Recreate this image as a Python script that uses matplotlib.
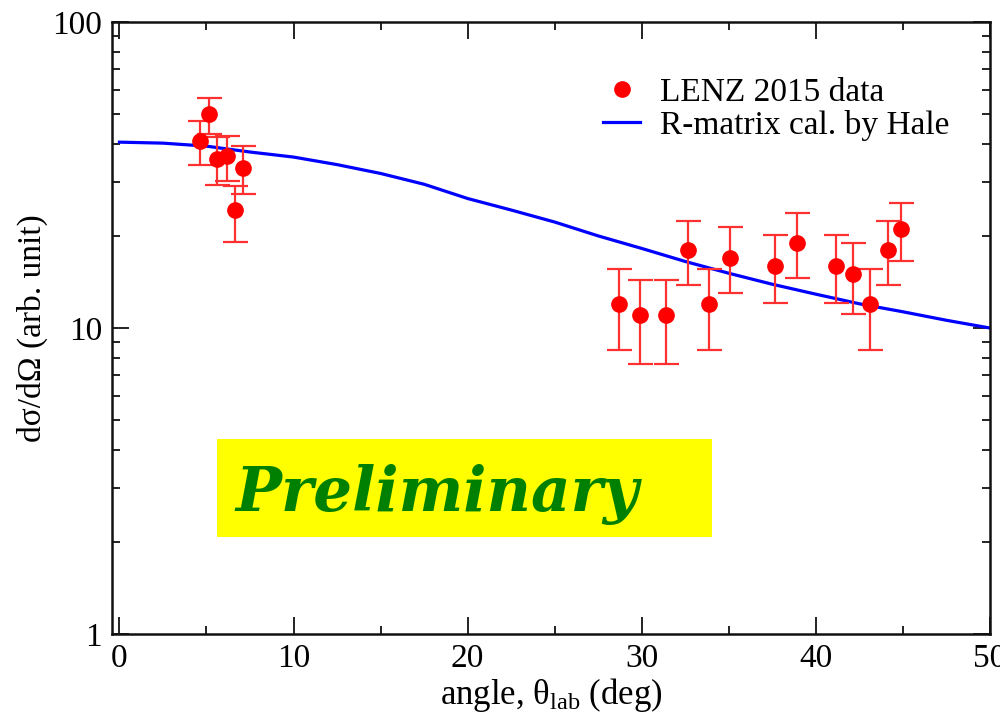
import matplotlib
matplotlib.use("Agg")
import matplotlib.pyplot as plt
from matplotlib.patches import Rectangle
from matplotlib.ticker import MultipleLocator, LogLocator, NullFormatter, FixedLocator, FixedFormatter
import numpy as np

# ---- data ----
angle = [4.65, 5.13, 5.63, 6.19, 6.63, 7.1, 28.69, 29.9, 31.38, 32.63, 33.87,
         35.08, 37.66, 38.9, 41.13, 42.13, 43.13, 44.12, 44.91]
xsec = [41.0, 50.0, 35.7, 36.4, 24.3, 33.3, 12.0, 11.0, 11.0, 18.0, 12.0,
        17.0, 16.0, 19.0, 16.0, 15.0, 12.0, 18.0, 21.0]
xsec_hi = [47.4, 56.6, 42.0, 42.4, 29.2, 39.3, 15.6, 14.3, 14.3, 22.3, 15.6,
           21.4, 20.1, 23.7, 20.1, 19.0, 15.6, 22.3, 25.7]
xsec_lo = [34.1, 43.2, 29.3, 30.3, 19.1, 27.4, 8.5, 7.65, 7.65, 13.85, 8.5,
           13.0, 12.06, 14.6, 12.06, 11.1, 8.5, 13.85, 16.5]

calc_angle = [0, 2.5, 5, 7.5, 10, 12.5, 15, 17.5, 20, 22.5, 25, 27.5, 30,
              32.5, 35, 37.5, 40, 42.5, 45, 47.5, 50]
calc_xsec = [40.5, 40.2, 39.3, 37.6, 36.2, 34.2, 32.0, 29.5, 26.5, 24.3, 22.2,
             20.0, 18.2, 16.5, 15.1, 13.9, 12.9, 12.0, 11.3, 10.6, 10.0]

xticks = [0, 10, 20, 30, 40, 50]
yticks = [1, 10, 100]
ytick_labels = ["1", "10", "100"]

plt.rcParams['font.family'] = ['Liberation Serif', 'DejaVu Serif']
plt.rcParams['mathtext.fontset'] = 'custom'
plt.rcParams['mathtext.rm'] = 'Liberation Serif'
plt.rcParams['mathtext.it'] = 'Liberation Serif:italic'

fig = plt.figure(figsize=(10, 7.2), dpi=100)
ax = fig.add_axes([0.1116, 0.1194, 0.8784, 0.85])

y = np.array(xsec)
yerr = [y - np.array(xsec_lo), np.array(xsec_hi) - y]

ax.plot(calc_angle, calc_xsec, color='#0000ff', lw=2.3, zorder=2,
        label='R-matrix cal. by Hale')
ax.errorbar(angle, xsec, yerr=yerr, fmt='none', ecolor='#ff3030',
            elinewidth=1.6, capsize=9, capthick=1.6, zorder=3)
ax.plot(angle, xsec, 'o', color='#ff0000', markersize=11, zorder=4,
        label='LENZ 2015 data')

ax.set_yscale('log')
ax.set_xlim(-0.45, 50)
ax.set_ylim(1, 100)

ax.xaxis.set_major_locator(FixedLocator(xticks))
ax.xaxis.set_minor_locator(MultipleLocator(5))
ax.yaxis.set_major_locator(FixedLocator(yticks))
ax.yaxis.set_major_formatter(FixedFormatter(ytick_labels))
ax.yaxis.set_minor_locator(LogLocator(base=10, subs=np.arange(2, 10)))
ax.yaxis.set_minor_formatter(NullFormatter())

ax.tick_params(which='both', direction='in', top=True, right=True,
               labelsize=24, width=1.4, color='#222222')
ax.tick_params(which='major', length=12)
ax.tick_params(which='minor', length=6)
ax.tick_params(axis='x', which='major', pad=7)
ax.tick_params(axis='y', which='major', pad=7)
for s in ax.spines.values():
    s.set_linewidth(1.8)
    s.set_color('#111111')

ax.set_xlabel(r'angle, $\mathrm{\theta_{lab}}$ (deg)', fontsize=25, labelpad=1)
ax.set_ylabel('dσ/dΩ (arb. unit)', fontsize=24, labelpad=3)

handles, labels = ax.get_legend_handles_labels()
leg = ax.legend(handles[::-1], labels[::-1], loc='upper left',
                bbox_to_anchor=(0.5446, 0.931), frameon=False, fontsize=24,
                handlelength=1.1, handletextpad=0.6, labelspacing=0.05,
                borderaxespad=0.0, borderpad=0.4)

# Preliminary box
ax.add_patch(Rectangle((0.12, 0.159), 0.5635, 0.16, transform=ax.transAxes,
                       facecolor='#ffff00', edgecolor='none', zorder=1))
ax.text(0.141, 0.2005, 'Preliminary', transform=ax.transAxes,
        fontsize=44, fontweight='bold', fontstyle='italic', color='#008000',
        family='DejaVu Serif', ha='left', va='baseline', zorder=5)

fig.savefig('out.png', dpi=100)
